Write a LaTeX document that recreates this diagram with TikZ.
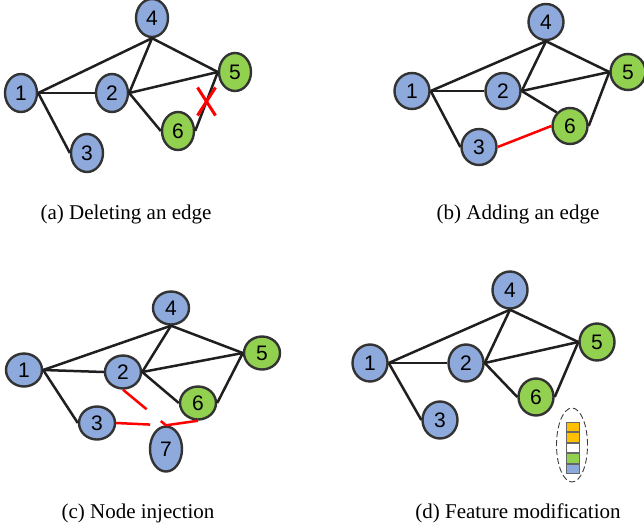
\documentclass[tikz,border=0pt]{standalone}
\usepackage{fontspec}
\setmainfont{Liberation Serif}
\newfontfamily\nodefont{Liberation Sans}
\usetikzlibrary{shapes.geometric,calc,positioning}
\definecolor{nblue}{HTML}{8EA9DB}
\definecolor{ngreen}{HTML}{92D050}
\definecolor{nborder}{HTML}{333333}
\definecolor{forange}{HTML}{FFC000}
\tikzset{
  gnode/.style={ellipse, draw=nborder, line width=2.4pt, inner sep=0pt,
    font=\nodefont\fontsize{21}{21}\selectfont},
  bnode/.style={gnode, fill=nblue},
  vnode/.style={gnode, fill=ngreen},
  sza/.style={minimum width=32pt, minimum height=38pt},
  szb/.style={minimum width=35pt, minimum height=36pt},
  szc/.style={minimum width=36pt, minimum height=33pt},
  szd/.style={minimum width=35pt, minimum height=37pt},
  edge/.style={line width=2.5pt, black!88},
  redge/.style={line width=2.5pt, red},
  caption/.style={anchor=base, font=\fontsize{21}{21}\selectfont},
  feat/.style={draw=black!60, line width=0.9pt, minimum width=13pt, minimum height=9.6pt, inner sep=0pt},
}
\begin{document}
\begin{tikzpicture}[x=1pt, y=-1pt]
\useasboundingbox (0,0) rectangle (644,529);
% ---------- (a)
\node[bnode,sza] (a1) at (21,93) {1};
\node[bnode,sza] (a2) at (112,93) {2};
\node[bnode,sza] (a4) at (152,18) {4};
\node[vnode,sza] (a5) at (235,72) {5};
\node[vnode,sza] (a6) at (178,131) {6};
\node[bnode,sza] (a3) at (87,153) {3};
\draw[edge] (a1.east) -- (a4.south);
\draw[edge] (a1.east) -- (a2.west);
\draw[edge] (a1.east) -- (a3.west);
\draw[edge] (a2.east) -- (a4.south);
\draw[edge] (a2.east) -- (a5.west);
\draw[edge] (a2.east) -- (a6.west);
\draw[edge] (a4.south) -- (a5.west);
\draw[edge] (a6.east) -- (a5.west);
\coordinate (ax) at ($(a6.east)!0.5!(a5.west)$);
\draw[line width=3pt, red] ($(ax)+(-9,-14)$) -- ($(ax)+(9,14)$);
\draw[line width=3pt, red] ($(ax)+(9,-14)$) -- ($(ax)+(-9,14)$);
\node[caption] (capa) at (126,219) {(a) Deleting an edge};
% ---------- (b)
\node[bnode,szb] (b1) at (412,91) {1};
\node[bnode,szb] (b2) at (503,91) {2};
\node[bnode,szb] (b4) at (546,22) {4};
\node[vnode,szb] (b5) at (628,72) {5};
\node[vnode,szb] (b6) at (570,126) {6};
\node[bnode,szb] (b3) at (479,147) {3};
\draw[edge] (b1.east) -- (b4.south);
\draw[edge] (b1.east) -- (b2.west);
\draw[edge] (b1.east) -- (b3.west);
\draw[edge] (b2.east) -- (b4.south);
\draw[edge] (b2.east) -- (b5.west);
\draw[edge] (b2.east) -- (b6.north west);
\draw[edge] (b4.south) -- (b5.west);
\draw[edge] (b6.east) -- (b5.west);
\draw[redge] (b3.east) -- (b6.west);
\node[caption] (capb) at (518,219) {(b) Adding an edge};
% ---------- (c)
\node[bnode,szc] (c1) at (24,370) {1};
\node[bnode,szc] (c2) at (123,372) {2};
\node[bnode,szc] (c4) at (171,308) {4};
\node[vnode,szc] (c5) at (262,353) {5};
\node[vnode,szc] (c6) at (198,403) {6};
\node[bnode,szc] (c3) at (97,423) {3};
\node[bnode,minimum width=32pt,minimum height=45pt] (c7) at (166,449) {7};
\draw[edge] (c1.east) -- (c4.south);
\draw[edge] (c1.east) -- (c2.west);
\draw[edge] (c1.east) -- (c3.west);
\draw[edge] (c2.east) -- (c4.south);
\draw[edge] (c2.east) -- (c5.west);
\draw[edge] (c2.east) -- (c6.west);
\draw[edge] (c4.south) -- (c5.west);
\draw[edge] (c6.east) -- (c5.west);
\draw[redge] (c2.south) -- ($(c2.south)!0.55!(c7.north)$);
\draw[redge] ($(c2.south)!0.88!(c7.north)$) -- (c7.north);
\draw[redge] (c3.east) -- ($(c3.east)!0.68!(c7.north)$);
\draw[redge] (c6.south) -- (c7.north);
\node[caption] (capc) at (138,518) {(c) Node injection};
% ---------- (d)
\node[bnode,szd] (d1) at (370,363) {1};
\node[bnode,szd] (d2) at (466,363) {2};
\node[bnode,szd] (d4) at (510,290) {4};
\node[vnode,szd] (d5) at (597,342) {5};
\node[vnode,szd] (d6) at (536,397) {6};
\node[bnode,szd] (d3) at (440,420) {3};
\draw[edge] (d1.east) -- (d4.south);
\draw[edge] (d1.east) -- (d2.west);
\draw[edge] (d1.east) -- (d3.west);
\draw[edge] (d2.east) -- (d4.south);
\draw[edge] (d2.east) -- (d5.west);
\draw[edge] (d2.east) -- (d6.west);
\draw[edge] (d4.south) -- (d5.west);
\draw[edge] (d6.east) -- (d5.west);
\node[feat, fill=forange] (f1) at (573,427) {};
\node[feat, fill=forange, below=0pt of f1] (f2) {};
\node[feat, fill=white, below=0pt of f2] (f3) {};
\node[feat, fill=ngreen, below=0pt of f3] (f4) {};
\node[feat, fill=nblue, below=0pt of f4] (f5) {};
\node[ellipse, draw=black!75, dash pattern=on 6pt off 3pt, line width=0.9pt, minimum width=31pt, minimum height=74pt] (fe) at (572,445) {};
\node[caption] (capd) at (518,518) {(d) Feature modification};
\end{tikzpicture}
\end{document}
